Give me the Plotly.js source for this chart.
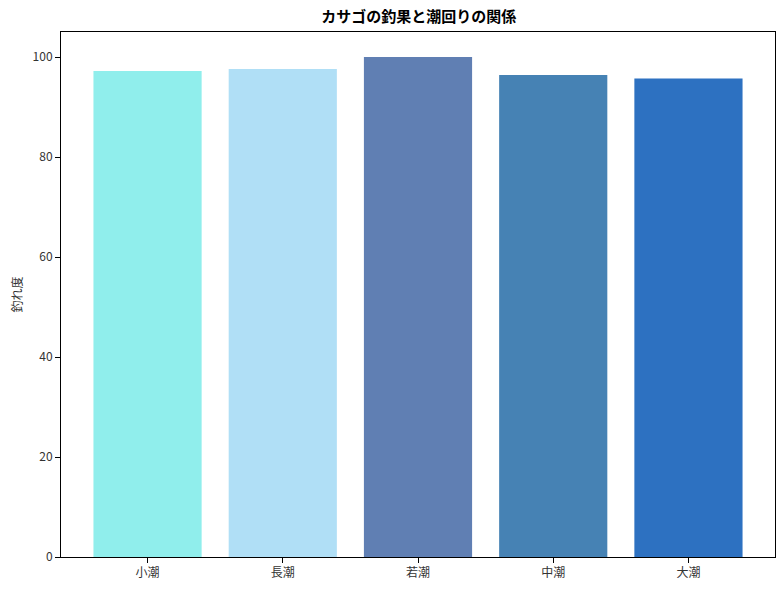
<!DOCTYPE html>
<html>
<head>
<meta charset="utf-8">
<script src="https://cdn.plot.ly/plotly-3.0.1.min.js"></script>
<style>body{margin:0;background:#fff}</style>
</head>
<body>
<div id="chart" style="width:784px;height:590px"></div>
<script>
var tides = ["小潮", "長潮", "若潮", "中潮", "大潮"];
var catchScore = [97.2, 97.6, 100, 96.4, 95.7];
var barColors = ["#90EEEC", "#B0DFF6", "#607FB3", "#4682B4", "#2D71C1"];

var trace = {
    type: "bar",
    x: [0, 1, 2, 3, 4],
    y: catchScore,
    width: 0.8,
    marker: { color: barColors, line: { width: 0 } },
    hoverinfo: "y"
};

var fontFam = "'Noto Sans CJK JP', 'DejaVu Sans', sans-serif";

var layout = {
    width: 784,
    height: 590,
    margin: { l: 61, r: 9, t: 32, b: 33 },
    paper_bgcolor: "white",
    plot_bgcolor: "white",
    showlegend: false,
    font: { family: fontFam, color: "#333", size: 12 },
    title: {
        text: "<b>カサゴの釣果と潮回りの関係</b>",
        font: { family: fontFam, size: 15, color: "black" },
        x: 0.534, xanchor: "center",
        y: 0.972, yanchor: "middle"
    },
    xaxis: {
        range: [-0.64, 4.64],
        tickvals: [0, 1, 2, 3, 4],
        ticktext: tides,
        ticks: "outside", ticklen: 5, tickcolor: "black",
        showline: true, linecolor: "black", linewidth: 1, mirror: true,
        showgrid: false, zeroline: false,
        tickfont: { size: 12, color: "#333" }
    },
    yaxis: {
        range: [0, 105],
        tickvals: [0, 20, 40, 60, 80, 100],
        ticks: "outside", ticklen: 5, tickcolor: "black",
        showline: true, linecolor: "black", linewidth: 1, mirror: true,
        showgrid: false, zeroline: false,
        tickfont: { size: 12, color: "#333" },
        title: { text: "釣れ度", font: { size: 12, color: "#333" }, standoff: 7 }
    }
};

Plotly.newPlot("chart", [trace], layout, { displayModeBar: false });
</script>
</body>
</html>
